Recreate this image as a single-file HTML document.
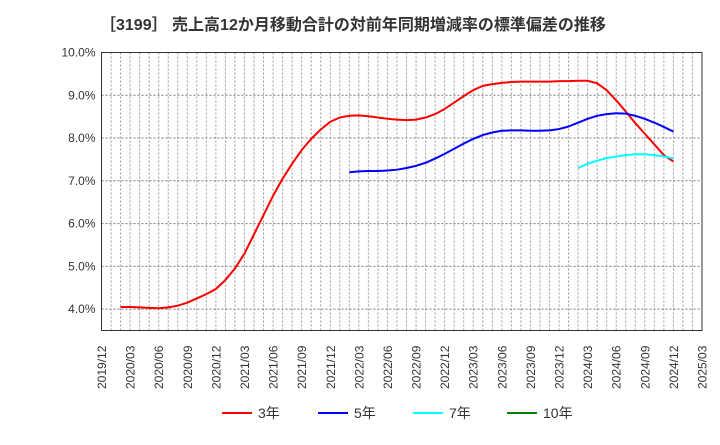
<!DOCTYPE html>
<html><head><meta charset="utf-8"><style>
body{margin:0;background:#fff;font-family:"Liberation Sans","Noto Sans CJK JP",sans-serif}
</style></head><body>
<svg id="c" width="720" height="440" xmlns="http://www.w3.org/2000/svg" font-family="Liberation Sans, Noto Sans CJK JP, sans-serif">
<text x="100" y="30" font-size="16" font-weight="bold" fill="#333">［3199］ 売上高12か月移動合計の対前年同期増減率の標準偏差の推移</text>
<g id="grid"></g><g id="axes"></g><g id="series"></g>
<g id="legend"></g>
</svg>
<script>
const yTicks=[4,5,6,7,8,9,10];
const xLabels=["2019/12","2020/03","2020/06","2020/09","2020/12","2021/03","2021/06","2021/09","2021/12","2022/03","2022/06","2022/09","2022/12","2023/03","2023/06","2023/09","2023/12","2024/03","2024/06","2024/09","2024/12","2025/03"];
const s3Start=2;
const s3=[4.05,4.05,4.04,4.03,4.02,4.04,4.08,4.15,4.25,4.35,4.47,4.68,4.95,5.3,5.75,6.2,6.65,7.05,7.4,7.72,7.98,8.2,8.38,8.48,8.52,8.53,8.51,8.48,8.45,8.43,8.42,8.43,8.48,8.56,8.68,8.83,8.98,9.12,9.22,9.26,9.29,9.31,9.32,9.32,9.32,9.32,9.33,9.33,9.34,9.34,9.28,9.12,8.88,8.62,8.35,8.1,7.85,7.6,7.45];
const s5Start=26;
const s5=[7.20,7.22,7.23,7.23,7.24,7.26,7.30,7.35,7.42,7.52,7.63,7.75,7.87,7.98,8.07,8.13,8.17,8.18,8.18,8.17,8.17,8.18,8.21,8.27,8.36,8.45,8.52,8.56,8.58,8.57,8.52,8.45,8.36,8.26,8.15];
const s7Start=50;
const s7=[7.30,7.40,7.47,7.53,7.57,7.60,7.62,7.62,7.60,7.57,7.52];
const legendNames=["3年","5年","7年","10年"];
const colors=["#ff0000","#0000ff","#00ffff","#008000"];
const L=101.5,R=702,T=52.5,B=330.5,NM=63,YMIN=3.5,YMAX=10;
const X=m=>L+(R-L)*m/NM, Y=v=>B-(B-T)*(v-YMIN)/(YMAX-YMIN);
const NS="http://www.w3.org/2000/svg";
function mk(p,t,a){const e=document.createElementNS(NS,t);for(const k in a)e.setAttribute(k,a[k]);p.appendChild(e);return e;}
const g=document.getElementById('grid'),ax=document.getElementById('axes'),se=document.getElementById('series'),lg=document.getElementById('legend');
for(let m=1;m<NM;m++){const l=mk(g,'line',{x1:X(m),x2:X(m),y1:T,y2:B,stroke:'#999','stroke-dasharray':'2,2','stroke-width':1});

}
yTicks.forEach(v=>{if(v<10){const l=mk(g,'line',{x1:L,x2:R,y1:Y(v),y2:Y(v),stroke:'#777','stroke-dasharray':'2,2','stroke-width':1});

}
const t=mk(ax,'text',{x:L-6,y:Y(v)+4,'text-anchor':'end','font-size':12,fill:'#333'});t.textContent=v.toFixed(1)+'%';

});
const fr=mk(ax,'rect',{x:L,y:T,width:R-L,height:B-T,fill:'none',stroke:'#333','stroke-width':1});


xLabels.forEach((s,i)=>{const x=X(i*3)+4.5,y=389;const t=mk(ax,'text',{x:x,y:y,transform:`rotate(-90 ${x} ${y})`,'font-size':12,fill:'#333'});t.textContent=s;

});
function line(data,start,color,name){const p=mk(se,'polyline',{points:data.map((v,i)=>X(start+i)+','+Y(v)).join(' '),fill:'none',stroke:color,'stroke-width':2,'stroke-linejoin':'round'});

}
line(s3,s3Start,colors[0],'series-3y');
line(s5,s5Start,colors[1],'series-5y');
line(s7,s7Start,colors[2],'series-7y');
const lx=[222,318,413,507];
legendNames.forEach((n,i)=>{const l=mk(lg,'line',{x1:lx[i],x2:lx[i]+30,y1:413,y2:413,stroke:colors[i],'stroke-width':2});


const t=mk(lg,'text',{x:lx[i]+36,y:418,'font-size':14,fill:'#333'});t.textContent=n;

});
</script>
</body></html>
